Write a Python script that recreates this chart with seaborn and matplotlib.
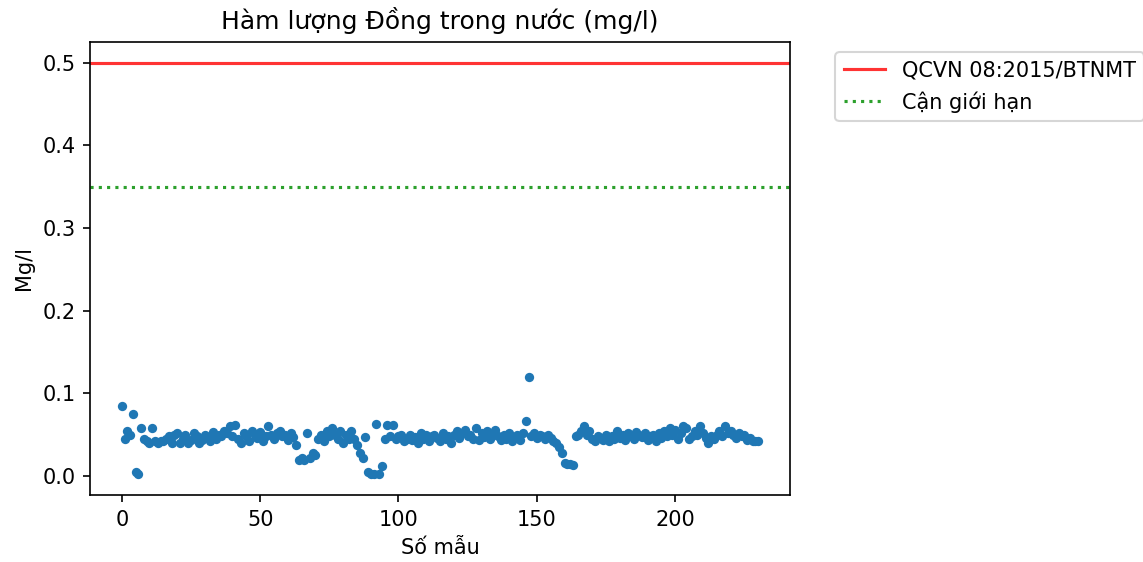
import numpy as np
import pandas as pd
import matplotlib
matplotlib.use("Agg")
import matplotlib.pyplot as plt
import seaborn as sns

# Copper concentration per sample (mg/l)
values = [
    0.085, 0.045, 0.055, 0.050, 0.075, 0.005, 0.003, 0.058, 0.045, 0.042,
    0.040, 0.058, 0.042, 0.040, 0.043, 0.042, 0.045, 0.048, 0.040,
    0.050, 0.052, 0.040, 0.045, 0.050, 0.040, 0.044, 0.052, 0.048,
    0.040, 0.044, 0.050, 0.047, 0.042, 0.053, 0.045, 0.050, 0.048,
    0.055, 0.052, 0.060, 0.048, 0.062, 0.045, 0.040, 0.052, 0.049,
    0.043, 0.055, 0.050, 0.046, 0.053, 0.042, 0.048, 0.060, 0.050,
    0.045, 0.052, 0.055, 0.048, 0.050, 0.044, 0.052, 0.047, 0.038,
    0.020, 0.022, 0.020, 0.052, 0.022, 0.028, 0.025, 0.045, 0.050, 0.043,
    0.055, 0.048, 0.058, 0.050, 0.045, 0.055, 0.040, 0.050, 0.045,
    0.055, 0.045, 0.038, 0.028, 0.022, 0.047, 0.005, 0.002, 0.003, 0.063,
    0.002, 0.012, 0.045, 0.062, 0.048, 0.062, 0.045, 0.048, 0.050,
    0.042, 0.045, 0.050, 0.044, 0.047, 0.040, 0.052, 0.045, 0.050,
    0.043, 0.048, 0.050, 0.046, 0.042, 0.052, 0.045, 0.048, 0.040,
    0.050, 0.055, 0.046, 0.052, 0.056, 0.048, 0.050, 0.045, 0.058,
    0.044, 0.052, 0.047, 0.055, 0.045, 0.050, 0.056, 0.048, 0.044,
    0.050, 0.045, 0.052, 0.042, 0.047, 0.050, 0.044, 0.052, 0.067, 0.120,
    0.048, 0.052, 0.046, 0.050, 0.048, 0.045, 0.050, 0.046, 0.042,
    0.040, 0.035, 0.028, 0.016, 0.015, 0.014, 0.013, 0.048, 0.050, 0.055,
    0.060, 0.050, 0.055, 0.045, 0.042, 0.048, 0.046, 0.044, 0.050,
    0.042, 0.048, 0.045, 0.055, 0.046, 0.050, 0.044, 0.052, 0.048,
    0.045, 0.053, 0.050, 0.047, 0.052, 0.044, 0.048, 0.050, 0.042,
    0.052, 0.046, 0.055, 0.048, 0.058, 0.050, 0.056, 0.045, 0.052, 0.060,
    0.058, 0.045, 0.048, 0.055, 0.050, 0.060, 0.052, 0.046, 0.040, 0.048,
    0.045, 0.050, 0.055, 0.048, 0.060, 0.052, 0.055, 0.050, 0.046, 0.052,
    0.048, 0.050, 0.044, 0.046, 0.042, 0.043, 0.042,
]
samples = list(range(len(values)))

limit_value = 0.5    # QCVN 08:2015/BTNMT
near_limit = 0.35    # Cận giới hạn

df = pd.DataFrame({"Số mẫu": samples, "Mg/l": values})

fig = plt.figure(figsize=(1143 / 150, 562 / 150), dpi=150)
ax = fig.add_subplot(111)
fig.subplots_adjust(left=90 / 1143, right=790 / 1143, top=1 - 42 / 562, bottom=1 - 495 / 562)

sns.scatterplot(data=df, x="Số mẫu", y="Mg/l", ax=ax, s=20, linewidth=0,
                color="#1f77b4")
ax.axhline(limit_value, color="red", alpha=0.8, linewidth=1.5,
           label="QCVN 08:2015/BTNMT")
ax.axhline(near_limit, color="#2ca02c", linestyle=":", linewidth=1.5,
           label="Cận giới hạn")

ax.set_title("Hàm lượng Đồng trong nước (mg/l)")
ax.set_xlabel("Số mẫu")
ax.set_ylabel("Mg/l")
ax.legend(bbox_to_anchor=(1.05, 1), loc="upper left")

fig.savefig("out.png", dpi=150)
